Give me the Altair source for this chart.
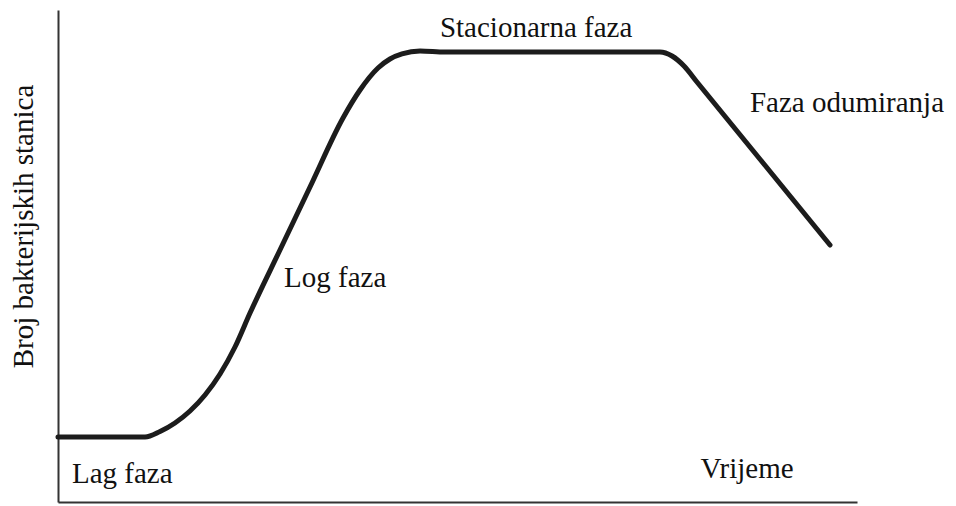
import altair as alt
import pandas as pd

# Growth curve (time in arbitrary units 0-100, count 0-100)
time = [0, 5.26, 10.89, 12.77, 14.64, 16.52, 18.40, 20.28, 22.15, 24.03, 27.78, 31.54,
        35.67, 37.80, 40.05, 41.55, 43.05, 45.31, 48.44, 75.34, 76.85, 78.35, 79.97, 96.62]
count = [13.2, 13.2, 13.2, 14.33, 16.06, 18.50, 21.75, 26.02, 31.50, 38.41, 51.22, 64.02,
         78.05, 83.74, 88.21, 90.04, 91.06, 91.67, 91.46, 91.46, 90.65, 88.62, 85.37, 52.24]

labels = ["Stacionarna faza", "Faza odumiranja", "Log faza", "Lag faza", "Vrijeme"]
label_x = [47.8, 86.6, 28.3, 1.75, 80.4]
label_y = [94.5, 79.3, 43.7, 3.9, 4.9]

y_title = "Broj bakterijskih stanica"

curve = pd.DataFrame({"t": time, "n": count, "order": list(range(len(time)))})
notes = pd.DataFrame({"label": labels, "x": label_x, "y": label_y})
ytitle_df = pd.DataFrame({"label": [y_title], "x": [-3.1], "y": [56.0]})

FONT = "Liberation Serif"
FS = 29

xs = alt.Scale(domain=[0, 100], nice=False, zero=False)
ys = alt.Scale(domain=[0, 100], nice=False, zero=False)

line = alt.Chart(curve).mark_line(
    color="#1c1c1c", strokeWidth=5, interpolate="monotone", strokeCap="round", strokeJoin="round"
).encode(
    x=alt.X("t:Q", scale=xs, axis=alt.Axis(
        title=None, labels=False, ticks=False, grid=False,
        domainColor="#333333", domainWidth=2)),
    y=alt.Y("n:Q", scale=ys, axis=alt.Axis(
        title=None, labels=False, ticks=False, grid=False,
        domainColor="#333333", domainWidth=2)),
    order="order:Q",
)

text = alt.Chart(notes).mark_text(
    font=FONT, fontSize=FS, color="#111111", align="left", baseline="alphabetic"
).encode(
    x=alt.X("x:Q", scale=xs),
    y=alt.Y("y:Q", scale=ys),
    text="label:N",
)

ytext = alt.Chart(ytitle_df).mark_text(
    font=FONT, fontSize=FS, color="#111111", align="center", baseline="alphabetic", angle=270
).encode(
    x=alt.X("x:Q", scale=xs),
    y=alt.Y("y:Q", scale=ys),
    text="label:N",
)

chart = (line + text + ytext).properties(
    width=799, height=492,
    autosize=alt.AutoSizeParams(type="none"),
    padding={"left": 50, "top": 2, "right": 90, "bottom": 2},
    background="white",
).configure_view(stroke=None)

chart.save("out.html", embed_options={"renderer": "svg", "actions": False})
